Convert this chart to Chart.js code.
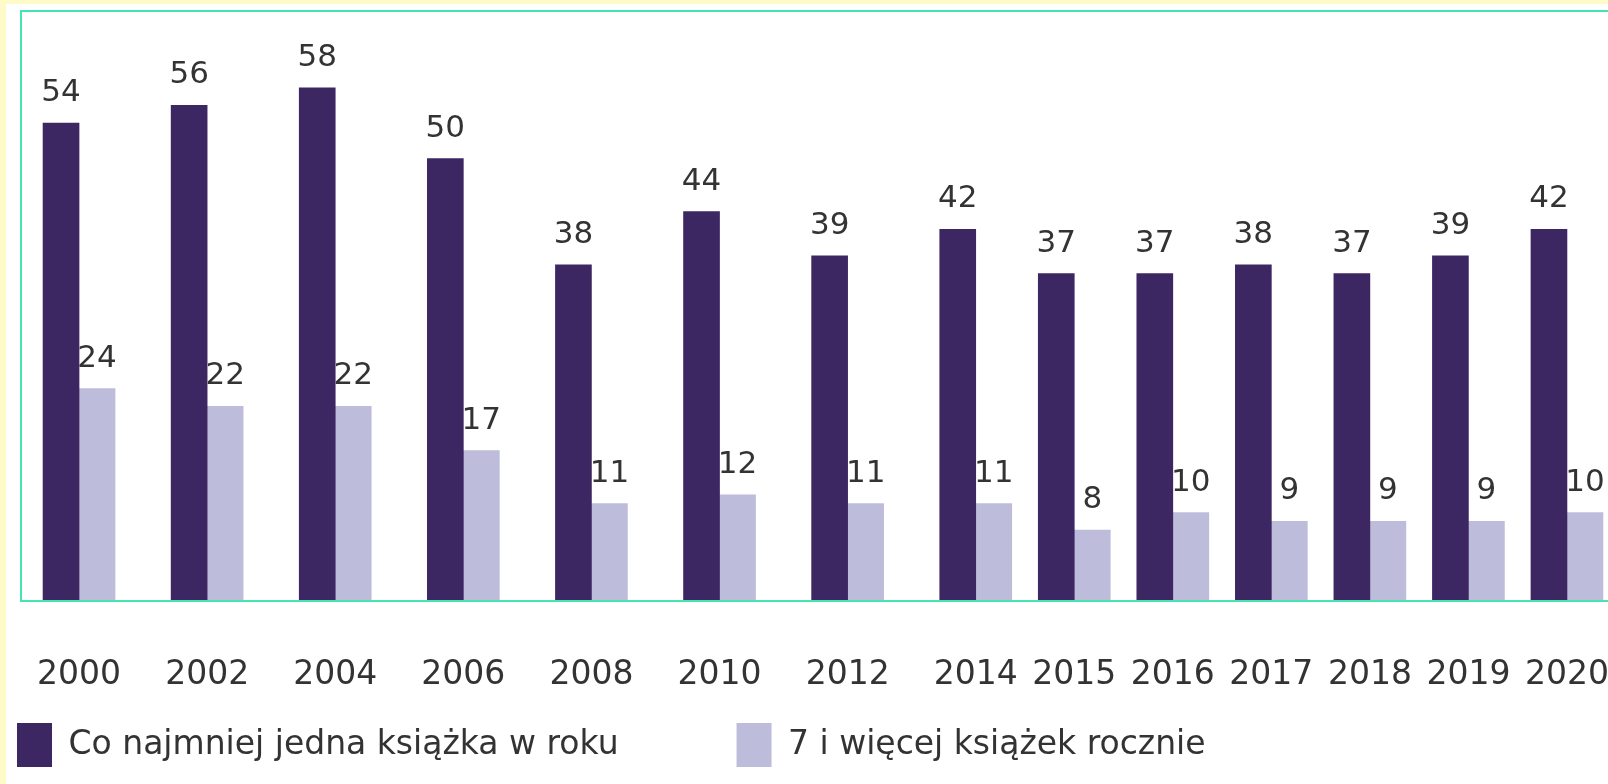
<!DOCTYPE html>
<html>
<head>
<meta charset="utf-8">
<script src="https://cdn.jsdelivr.net/npm/chart.js@4/dist/chart.umd.min.js"></script>
<style>
  html, body { margin: 0; padding: 0; overflow: hidden; }
  body { background: #fffbc9; width: 1608px; height: 784px; position: relative; }
  #paper { position: absolute; left: 6px; top: 4px; right: 0; bottom: 0; background: #fff; }
  #myChart { position: absolute; left: -101px; top: 0; }
</style>
</head>
<body>
<div id="paper"></div>
<canvas id="myChart" width="1800" height="784"></canvas>
<script>
"use strict"

const years = ['2000', '2002', '2004', '2006', '2008', '2010', '2012', '2014', '2015', '2016', '2017', '2018', '2019', '2020']
const atLeastOne = [54, 56, 58, 50, 38, 44, 39, 42, 37, 37, 38, 37, 39, 42]
const sevenPlus = [24, 22, 22, 17, 11, 12, 11, 11, 8, 10, 9, 9, 9, 10]
const seriesNames = ['Co najmniej jedna książka w roku', '7 i więcej książek rocznie']

// two-year steps sit a bit wider apart than the yearly ones
let slots = []
let s = 0
for (let i = 0; i < years.length; i++) {
  if (i > 0) s += (Number(years[i]) - Number(years[i - 1]) > 1) ? 1.3 : 1
  slots.push(s)
}

const dark = '#3d2763'
const light = '#bdbddb'
const green = '#44e5b0'
const textColor = '#333'

Chart.defaults.font.family = '"DejaVu Sans", sans-serif'
Chart.defaults.color = textColor

const frame = {
  id: 'frame',
  afterDatasetsDraw(chart) {
    const { ctx, chartArea } = chart
    ctx.save()
    ctx.strokeStyle = green
    ctx.lineWidth = 2
    ctx.beginPath()
    ctx.moveTo(chartArea.right + 10, chartArea.top)
    ctx.lineTo(chartArea.left, chartArea.top)
    ctx.lineTo(chartArea.left, chartArea.bottom)
    ctx.lineTo(chartArea.right + 10, chartArea.bottom)
    ctx.stroke()

    // value labels above the bars
    ctx.font = '31px "DejaVu Sans"'
    ctx.fillStyle = textColor
    ctx.textAlign = 'center'
    ctx.textBaseline = 'alphabetic'
    chart.data.datasets.forEach((ds, di) => {
      chart.getDatasetMeta(di).data.forEach((bar, i) => {
        ctx.fillText(String(ds.data[i].y), bar.x, bar.y - 22)
      })
    })
    ctx.restore()
  }
}

const ctx = document.getElementById('myChart')

let graph = new Chart(ctx, {
  type: 'bar',
  data: {
    datasets: [
      {
        label: seriesNames[0],
        data: atLeastOne.map((v, i) => ({ x: slots[i], y: v })),
        backgroundColor: dark,
        barThickness: 36
      },
      {
        label: seriesNames[1],
        data: sevenPlus.map((v, i) => ({ x: slots[i], y: v })),
        backgroundColor: light,
        barThickness: 36
      }
    ]
  },
  options: {
    responsive: false,
    devicePixelRatio: 1,
    animation: false,
    layout: {
      padding: { top: 11, bottom: 7, left: 0, right: 0 }
    },
    scales: {
      x: {
        type: 'linear',
        offset: false,
        min: -0.589,
        max: 16.44,
        grid: { display: false, drawTicks: false },
        border: { display: false },
        afterBuildTicks: (scale) => {
          scale.ticks = slots.map(v => ({ value: v }))
        },
        afterFit: (scale) => {
          scale.height = 4
        },
        ticks: {
          autoSkip: false,
          maxRotation: 0,
          mirror: true,
          padding: -94,
          color: textColor,
          font: { size: 33 },
          callback: (value) => years[slots.indexOf(value)]
        }
      },
      y: {
        min: 0,
        max: 66.67,
        grid: { display: false, drawTicks: false },
        border: { display: false },
        ticks: { display: false },
        afterFit: (scale) => {
          scale.width = 122
        }
      }
    },
    plugins: {
      legend: {
        position: 'bottom',
        align: 'start',
        labels: {
          boxWidth: 35,
          boxHeight: 44,
          padding: 118,
          color: textColor,
          font: { size: 33 }
        }
      },
      tooltip: { enabled: false }
    }
  },
  plugins: [frame]
})
</script>
</body>
</html>
